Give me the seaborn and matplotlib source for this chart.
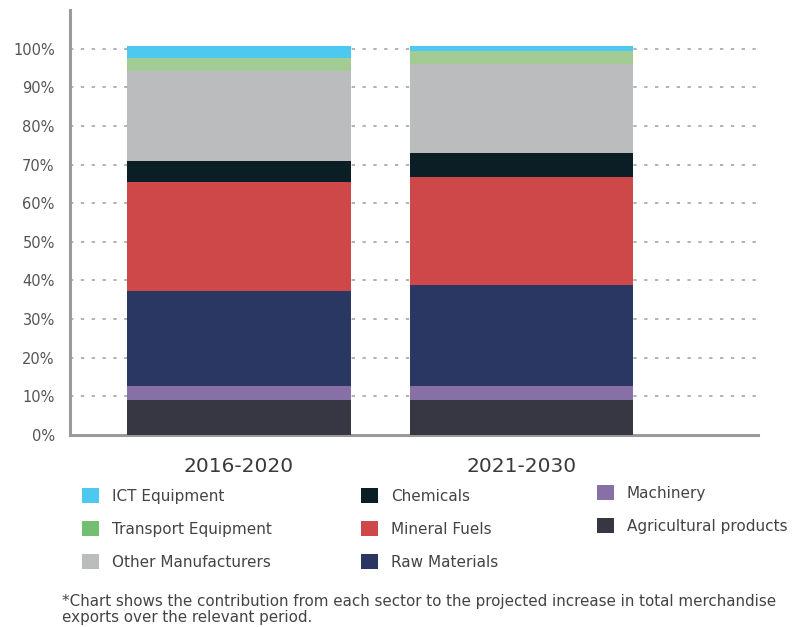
import numpy as np
import pandas as pd
import matplotlib
matplotlib.use("Agg")
import matplotlib.pyplot as plt
import seaborn as sns
from matplotlib.patches import Patch

# ---- data (percent contribution) ----
periods = ["2016-2020", "2021-2030"]
agri = [9.0, 9.0]
machinery = [3.7, 3.7]
raw_materials = [24.7, 26.0]
mineral_fuels = [28.1, 28.1]
chemicals = [5.4, 6.2]
other_manuf = [23.3, 23.1]
transport = [3.4, 3.3]
ict = [3.0, 1.2]
yticks = [0, 10, 20, 30, 40, 50, 60, 70, 80, 90, 100]

# bottom-to-top stacking order
layers = [
    ("Agricultural products", agri, "#363742"),
    ("Machinery", machinery, "#8770A6"),
    ("Raw Materials", raw_materials, "#2A3763"),
    ("Mineral Fuels", mineral_fuels, "#CE4749"),
    ("Chemicals", chemicals, "#0B1E25"),
    ("Other Manufacturers", other_manuf, "#BBBCBE"),
    ("Transport Equipment", transport, "#A3CC94"),
    ("ICT Equipment", ict, "#4DC9F0"),
]
legend_colors = {
    "ICT Equipment": "#4DC9F0",
    "Transport Equipment": "#72BF72",
    "Other Manufacturers": "#BBBCBE",
    "Chemicals": "#0B1E25",
    "Mineral Fuels": "#CE4749",
    "Raw Materials": "#2A3763",
    "Machinery": "#8770A6",
    "Agricultural products": "#363742",
}

sns.set_theme(style="white")
plt.rcParams["font.family"] = ["DejaVu Sans"]

W, H = 794, 627
fig = plt.figure(figsize=(W / 100, H / 100), dpi=100)
ax = fig.add_axes([70 / W, 1 - 435 / H, (758 - 70) / W, (435 - 10) / H])

# cumulative stacking, draw tallest first
cum = np.cumsum(np.array([l[1] for l in layers]), axis=0)
for i in range(len(layers) - 1, -1, -1):
    df = pd.DataFrame({"period": periods, "value": cum[i]})
    sns.barplot(data=df, x="period", y="value", color=layers[i][2],
                saturation=1, width=0.79, edgecolor="none", linewidth=0,
                ax=ax, zorder=3)

# axes styling
u = 282.5
ax.set_xlim(-(239 - 70) / u, 1 + (758 - 521.5) / u)
ax.set_ylim(0, 110)
ax.set_yticks(yticks)
ax.set_yticklabels([f"{t}%" for t in yticks])
ax.set_xlabel("")
ax.set_ylabel("")
for t in yticks[1:]:
    ax.axhline(t, color="#a5a5a5", linestyle=(0, (2, 4.5)), linewidth=1.2, zorder=1)
for s in ["top", "right"]:
    ax.spines[s].set_visible(False)
for s in ["left", "bottom"]:
    ax.spines[s].set_color("#9a9a9a")
    ax.spines[s].set_linewidth(2.2)
ax.tick_params(axis="y", length=0, pad=11, labelsize=10.5, labelcolor="#555555")
ax.tick_params(axis="x", length=0, pad=16, labelsize=14.5, labelcolor="#3a3a3a")

# legend in three columns
cols = [
    (["ICT Equipment", "Transport Equipment", "Other Manufacturers"], 82, 488),
    (["Chemicals", "Mineral Fuels", "Raw Materials"], 361, 488),
    (["Machinery", "Agricultural products"], 597, 485),
]
for names, xpx, ypx in cols:
    handles = [Patch(facecolor=legend_colors[n], edgecolor="none", label=n) for n in names]
    fig.legend(handles=handles, loc="upper left",
               bbox_to_anchor=(xpx / W, 1 - ypx / H), frameon=False,
               fontsize=11, labelcolor="#444444", handlelength=1.1,
               handleheight=1.1, handletextpad=0.85, labelspacing=1.15,
               borderpad=0, borderaxespad=0)

fig.text(62 / W, 1 - 594 / H,
         "*Chart shows the contribution from each sector to the projected increase in total merchandise\n"
         "exports over the relevant period.",
         ha="left", va="top", fontsize=10.9, color="#444444", linespacing=1.05)

fig.savefig("out.png", dpi=100)
